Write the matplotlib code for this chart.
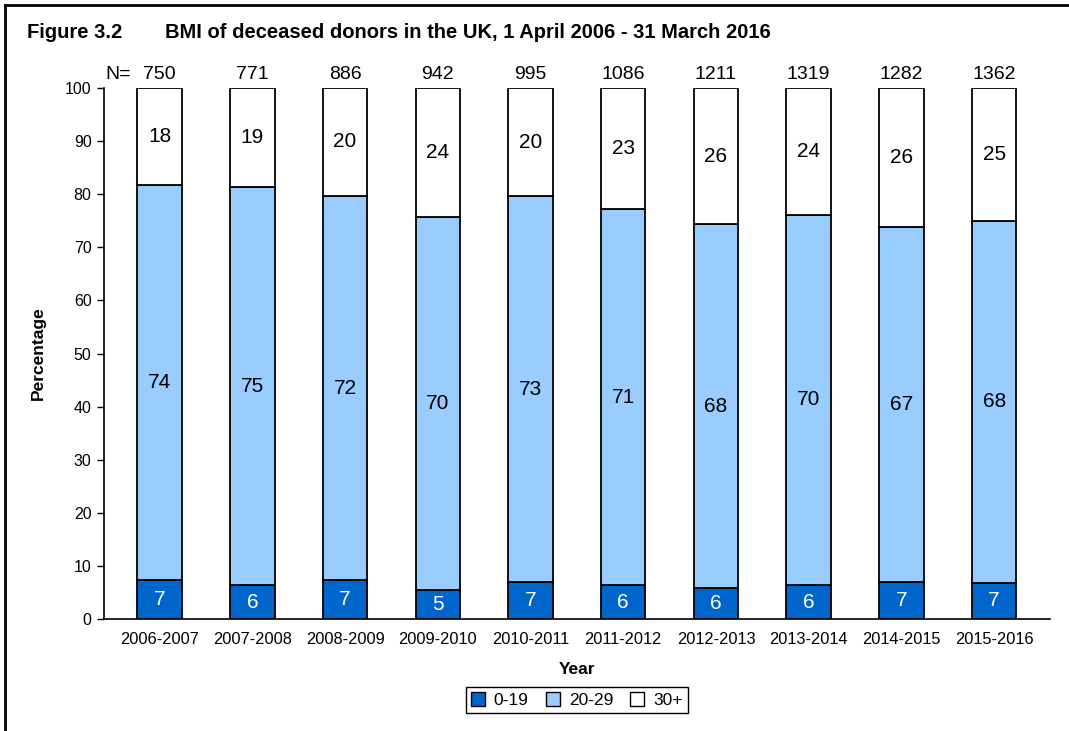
import matplotlib.pyplot as plt
from matplotlib.lines import Line2D
from matplotlib.patches import Patch

plt.rcParams['font.family'] = ['Liberation Sans', 'DejaVu Sans']

# Data (percentages)
years = ["2006-2007", "2007-2008", "2008-2009", "2009-2010", "2010-2011",
         "2011-2012", "2012-2013", "2013-2014", "2014-2015", "2015-2016"]
n_donors = [750, 771, 886, 942, 995, 1086, 1211, 1319, 1282, 1362]
bmi_0_19 = [7.4, 6.4, 7.3, 5.4, 7.0, 6.4, 5.9, 6.4, 7.0, 6.8]
bmi_20_29 = [74.4, 74.9, 72.4, 70.4, 72.6, 70.8, 68.4, 69.7, 66.8, 68.2]
bmi_30 = [18.2, 18.7, 20.3, 24.2, 20.4, 22.8, 25.7, 23.9, 26.2, 25.0]

c_low = "#0066CC"
c_mid = "#99CCFF"
c_high = "#FFFFFF"

fig = plt.figure(figsize=(10.69, 7.31), dpi=100)
ax = fig.add_axes([0.0973, 0.1532, 0.8847, 0.7264])

x = list(range(len(years)))
w = 0.48
bottom_mid = bmi_0_19
bottom_high = [a + b for a, b in zip(bmi_0_19, bmi_20_29)]

ax.bar(x, bmi_0_19, w, color=c_low, edgecolor="black", linewidth=1.3)
ax.bar(x, bmi_20_29, w, bottom=bottom_mid, color=c_mid, edgecolor="black", linewidth=1.3)
ax.bar(x, bmi_30, w, bottom=bottom_high, color=c_high, edgecolor="black", linewidth=1.3)

# segment labels
for i in x:
    ax.text(i, bmi_0_19[i] / 2, f"{bmi_0_19[i]:.0f}", ha="center", va="center",
            fontsize=15, color="white")
    ax.text(i, bottom_mid[i] + bmi_20_29[i] / 2, f"{bmi_20_29[i]:.0f}", ha="center",
            va="center", fontsize=15, color="black")
    ax.text(i, bottom_high[i] + bmi_30[i] / 2, f"{bmi_30[i]:.0f}", ha="center",
            va="center", fontsize=15, color="black")
    ax.text(i, 102.6, str(n_donors[i]), ha="center", va="center", fontsize=14,
            clip_on=False)
ax.text(-0.45, 102.6, "N=", ha="center", va="center", fontsize=14, clip_on=False)

ax.set_xlim(-0.6, 9.6)
ax.set_ylim(0, 100)
ax.set_yticks(range(0, 101, 10))
ax.set_xticks(x)
ax.set_xticklabels(years, fontsize=11.8)
ax.tick_params(axis="x", length=0, pad=9)
ax.tick_params(axis="y", length=5, width=1, labelsize=11.5, pad=4)

for s in ["top", "right"]:
    ax.spines[s].set_visible(False)
for s in ["left", "bottom"]:
    ax.spines[s].set_linewidth(1.2)

ax.set_xlabel("Year", fontsize=12.5, fontweight="bold", labelpad=11)
ax.set_ylabel("Percentage", fontsize=12.5, fontweight="bold", labelpad=14)

handles = [Patch(facecolor=c_low, edgecolor="black"),
           Patch(facecolor=c_mid, edgecolor="black"),
           Patch(facecolor=c_high, edgecolor="black")]
leg = ax.legend(handles, ["0-19", "20-29", "30+"], loc="center",
                bbox_to_anchor=(0.5, -0.153), ncol=3, fontsize=12.5,
                fancybox=False, framealpha=1, edgecolor="black",
                handlelength=0.8, handleheight=0.8, handletextpad=0.5,
                columnspacing=1.0, borderpad=0.3)
leg.get_frame().set_linewidth(1.0)

# title
fig.text(27 / 1069, 1 - 32 / 731, "Figure 3.2", fontsize=14.5, fontweight="bold",
         va="center")
fig.text(165 / 1069, 1 - 32 / 731,
         "BMI of deceased donors in the UK, 1 April 2006 - 31 March 2016",
         fontsize=14.5, fontweight="bold", va="center")

# frame lines (left and top)
fig.add_artist(Line2D([5 / 1069, 5 / 1069], [0, 1 - 5 / 731], color="black", lw=2))
fig.add_artist(Line2D([5 / 1069, 1], [1 - 5 / 731, 1 - 5 / 731], color="black", lw=2))

fig.savefig("out.png", dpi=100)
